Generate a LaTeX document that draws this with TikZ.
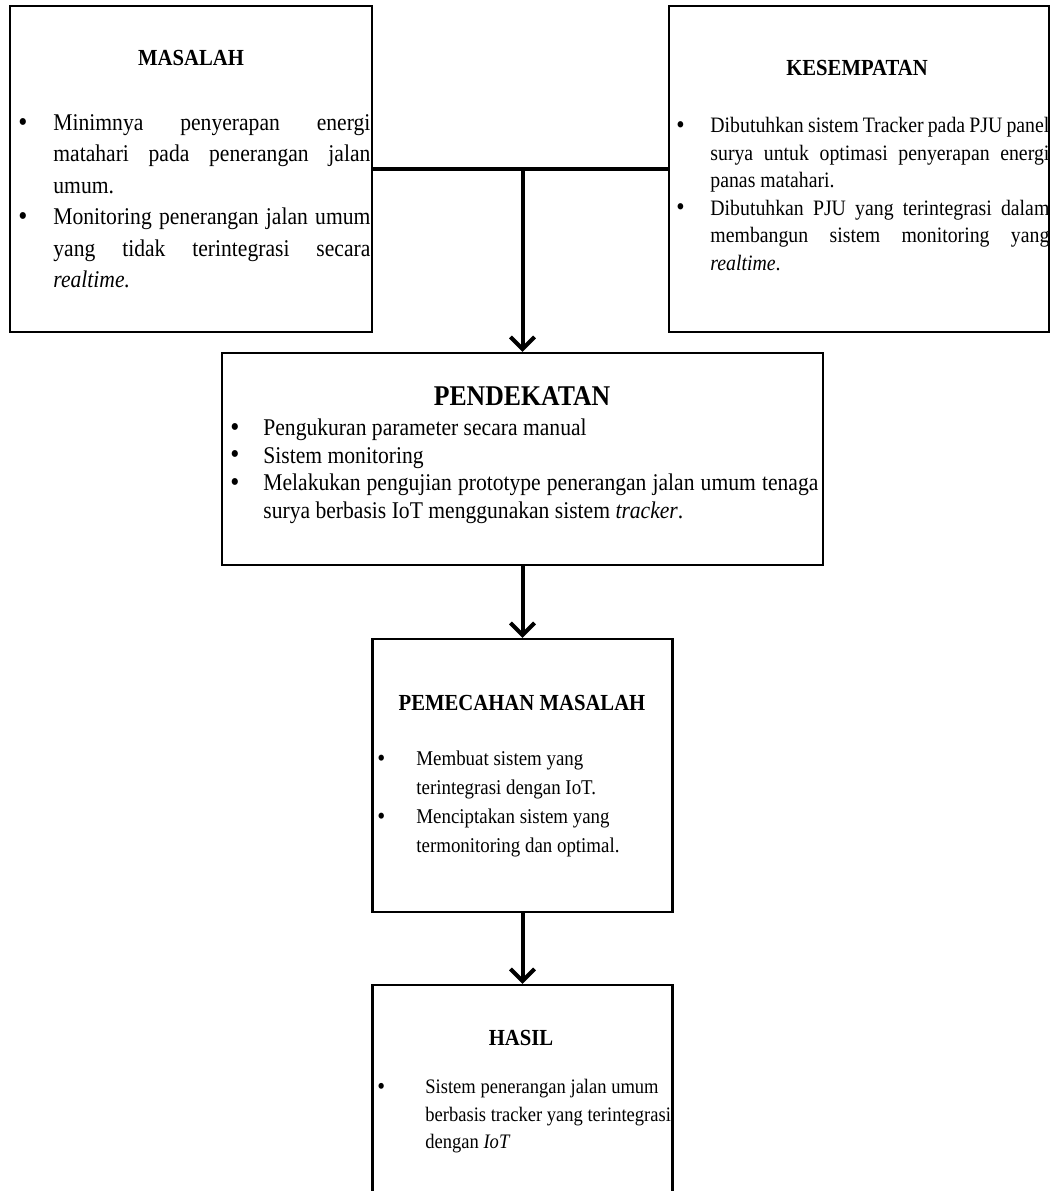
\documentclass[tikz,border=0pt]{standalone}
\usepackage{fontspec}
\setmainfont{Liberation Serif}[FakeStretch=0.9]
\usepackage{tikz}
\usetikzlibrary{arrows.meta}
\newcommand{\bul}[1]{\makebox[#1][l]{\raisebox{-0.03em}{\scalebox{1.2}{\textbullet}}}}
\newcommand{\jl}[2]{\makebox[#1][s]{#2}}

\begin{document}
\begin{tikzpicture}[x=0.5pt,y=-0.5pt,
  box/.style={draw,line width=1.2pt,inner sep=0pt},
  title/.style={anchor=base,inner sep=0pt,font=\fontsize{11.5}{14}\selectfont\bfseries},
  body/.style={anchor=north west,align=left,inner sep=0pt},
  link/.style={line width=2pt},
  arrow/.style={link,-{Straight Barb[length=6pt,width=12pt]}}]
  \useasboundingbox (0,0) rectangle (1054,1191);
  \clip (0,0) rectangle (1054,1191);
  % boxes
  \node[box,minimum width=181pt,minimum height=163pt] (masalah) at (191,169) {};
  \node[box,minimum width=190pt,minimum height=163pt] (kesempatan) at (859,169) {};
  \node[box,minimum width=300.5pt,minimum height=106pt] (pendekatan) at (522.5,459) {};
  \node[box,minimum width=150pt,minimum height=136.5pt] (pemecahan) at (522.5,775.5) {};
  \node[box,minimum width=150pt,minimum height=110pt] (hasil) at (522.5,1095) {};
  % titles
  \node[title] (tmasalah) at (191,65) {MASALAH};
  \node[title] (tkesempatan) at (857,75) {KESEMPATAN};
  \node[title,font=\fontsize{14.3}{17}\selectfont\bfseries] (tpendekatan) at (522,405) {PENDEKATAN};
  \node[title] (tpemecahan) at (522,710) {PEMECAHAN MASALAH};
  \node[title] (thasil) at (521,1045) {HASIL};
  % lists
  \node[body,font=\fontsize{12}{15.75}\selectfont] (bmasalah) at (18,108) {%
    \strut\bul{17.5pt}\jl{158.5pt}{Minimnya penyerapan energi}\\
    \hspace*{17.5pt}\jl{158.5pt}{matahari pada penerangan jalan}\\
    \hspace*{17.5pt}umum.\\
    \bul{17.5pt}\jl{158.5pt}{Monitoring penerangan jalan umum}\\
    \hspace*{17.5pt}\jl{158.5pt}{yang tidak terintegrasi secara}\\
    \hspace*{17.5pt}\textit{realtime.}};
  \node[body,font=\fontsize{11}{13.8}\selectfont] (bkesempatan) at (676,112.7) {%
    \strut\bul{17pt}\jl{169.5pt}{Dibutuhkan sistem Tracker pada PJU panel}\\
    \hspace*{17pt}\jl{169.5pt}{surya untuk optimasi penyerapan energi}\\
    \hspace*{17pt}panas matahari.\\
    \bul{17pt}\jl{169.5pt}{Dibutuhkan PJU yang terintegrasi dalam}\\
    \hspace*{17pt}\jl{169.5pt}{membangun sistem monitoring yang}\\
    \hspace*{17pt}\textit{realtime}.};
  \node[body,font=\fontsize{12}{13.9}\selectfont] (bpendekatan) at (230,415.5) {%
    \strut\bul{16.5pt}Pengukuran parameter secara manual\\
    \bul{16.5pt}Sistem monitoring\\
    \bul{16.5pt}\jl{277.5pt}{Melakukan pengujian prototype penerangan jalan umum tenaga}\\
    \hspace*{16.5pt}surya berbasis IoT menggunakan sistem \textit{tracker}.};
  \node[body,font=\fontsize{10.5}{14.5}\selectfont] (bpemecahan) at (377,744.7) {%
    \strut\bul{19.5pt}Membuat sistem yang\\
    \hspace*{19.5pt}terintegrasi dengan IoT.\\
    \bul{19.5pt}Menciptakan sistem yang\\
    \hspace*{19.5pt}termonitoring dan optimal.};
  \node[body,font=\fontsize{10.3}{13.8}\selectfont] (bhasil) at (377,1073.7) {%
    \strut\bul{24pt}Sistem penerangan jalan umum\\
    \hspace*{24pt}berbasis tracker yang terintegrasi\\
    \hspace*{24pt}dengan \textit{IoT}};
  % connectors
  \coordinate (split) at (pendekatan.north |- masalah.east);
  \draw[link] (masalah.east) -- (kesempatan.west);
  \draw[arrow] (split) -- (pendekatan.north);
  \draw[arrow] (pendekatan.south) -- (pemecahan.north);
  \draw[arrow] (pemecahan.south) -- (hasil.north);
\end{tikzpicture}
\end{document}
